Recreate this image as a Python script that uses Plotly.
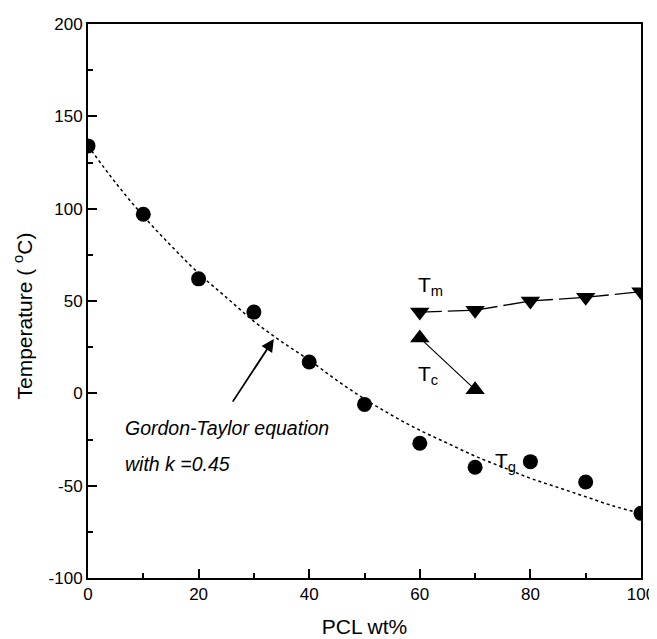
import plotly.graph_objects as go

# Data
pcl = [0, 10, 20, 30, 40, 50, 60, 70, 80, 90, 100]
tg = [134, 97, 62, 44, 17, -6, -27, -40, -37, -48, -65]

tm_x = [60, 70, 80, 90, 100]
tm_y = [44, 45, 50, 52, 55]

tc_x = [60, 70]
tc_y = [30, 2]

# Gordon-Taylor curve
gt_x = [0, 5, 10, 15, 20, 25, 30, 35, 40, 45, 50, 55, 60, 65, 70, 75, 80, 85, 90, 95, 100]
gt_y = [134, 114, 96, 80, 65, 52, 39, 28, 18, 7, -3, -12, -20, -27, -34, -40, -46, -51, -56, -61, -65]

x_ticks = [0, 20, 40, 60, 80, 100]
x_labels = ["0", "20", "40", "60", "80", "100"]
y_ticks = [-100, -50, 0, 50, 100, 150, 200]
y_labels = ["-100", "-50", "0", "50", "100", "150", "200"]

FONT = "Liberation Sans, Arial, sans-serif"

fig = go.Figure()

fig.add_trace(go.Scatter(x=gt_x, y=gt_y, mode="lines", line=dict(color="black", width=1.5, dash="dot", shape="spline"), showlegend=False))
fig.add_trace(go.Scatter(x=tm_x, y=tm_y, mode="lines+markers", line=dict(color="black", width=1.3, dash="22px,6px"),
                         marker=dict(symbol="triangle-down", size=17, color="black"), showlegend=False))
fig.add_trace(go.Scatter(x=tc_x, y=tc_y, mode="lines+markers", line=dict(color="black", width=1.2),
                         marker=dict(symbol="triangle-up", size=17, color="black"), showlegend=False))
fig.add_trace(go.Scatter(x=pcl, y=tg, mode="markers", marker=dict(symbol="circle", size=15, color="black"), showlegend=False))

txt = dict(font=dict(family=FONT, size=21, color="black"), showarrow=False, xanchor="left", yanchor="middle")
fig.add_annotation(x=59.3, y=58, text="T<sub>m</sub>", **txt)
fig.add_annotation(x=59.3, y=10, text="T<sub>c</sub>", **txt)
fig.add_annotation(x=73.3, y=-37, text="T<sub>g</sub>", **txt)

it = dict(font=dict(family=FONT, size=19.5, color="black"), showarrow=False, xanchor="left", yanchor="middle")
fig.add_annotation(x=6.3, y=-19, text="<i>Gordon-Taylor equation</i>", **it)
fig.add_annotation(x=6.3, y=-38.5, text="<i>with k =0.45</i>", **it)

fig.add_annotation(x=33.6, y=29.4, ax=26, ay=-5.3, xref="x", yref="y", axref="x", ayref="y",
                   text="", showarrow=True, arrowhead=2, arrowsize=1.4, arrowwidth=1.8, arrowcolor="black")

# y-axis title (placed as an annotation to match the reference's offset)
fig.add_annotation(x=0, y=0.472, xref="paper", yref="paper", xanchor="center", yanchor="middle",
                   xshift=-65, textangle=-90, showarrow=False,
                   text="Temperature ( <sup>o</sup>C)", font=dict(family=FONT, size=21, color="black"))

axis_common = dict(showline=True, linecolor="black", linewidth=2, mirror=True, ticks="inside",
                   ticklen=9, tickwidth=2, tickcolor="black", showgrid=False, zeroline=False,
                   automargin=False, tickfont=dict(family=FONT, size=17, color="black"))

fig.update_xaxes(range=[0, 100], tickvals=x_ticks, ticktext=x_labels,
                 minor=dict(tickvals=[10, 30, 50, 70, 90], ticks="inside", ticklen=5, tickwidth=2, tickcolor="black"),
                 title=dict(text="PCL wt%", font=dict(family=FONT, size=21, color="black"), standoff=16),
                 **axis_common)
fig.update_yaxes(range=[-100, 200], tickvals=y_ticks, ticktext=y_labels,
                 minor=dict(tickvals=[-75, -25, 25, 75, 125, 175], ticks="inside", ticklen=5, tickwidth=2, tickcolor="black"),
                 **axis_common)

# page body has an 8px margin; compensate so the plot area lands where the reference has it
fig.update_layout(width=649, height=631, margin=dict(l=80, r=16, t=16, b=61),
                  plot_bgcolor="white", paper_bgcolor="white", showlegend=False)

fig.write_html("out.html")
